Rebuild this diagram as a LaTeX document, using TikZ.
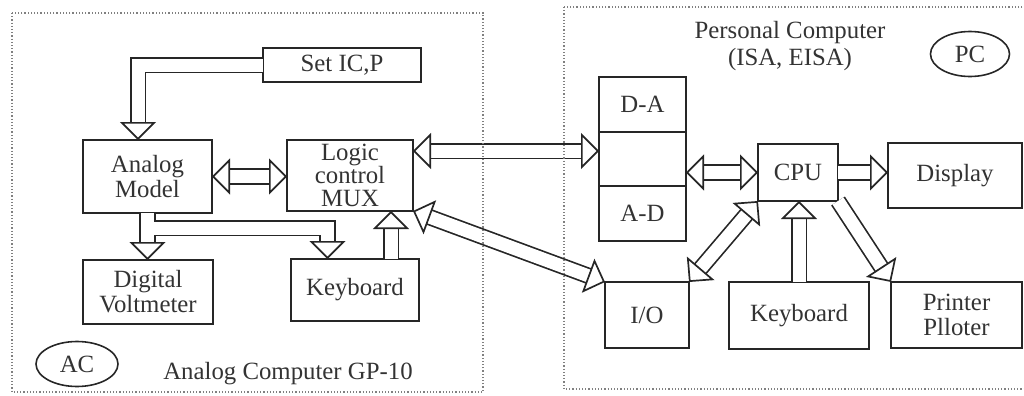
\documentclass[tikz,border=0pt]{standalone}
\usepackage{fontspec}
\setmainfont{Liberation Serif}
\usetikzlibrary{positioning, arrows.meta, calc, shapes.geometric}
\tikzset{
  blk/.style={draw=black!85, line width=0.8pt, inner sep=0pt, outer sep=0pt, align=center,
    text=black!80, font=\fontsize{12.4}{12.5}\selectfont},
  oval/.style={blk, ellipse},
  txt/.style={inner sep=0pt, align=center, text=black!80, font=\fontsize{12.4}{13.5}\selectfont},
  bus/.style={draw=black!85, line width=0.85pt, double=white, double distance=6.5pt},
  tip/.style={-{Triangle[open, length=9pt, width=18pt]}},
  tips/.style={{Triangle[open, length=9pt, width=18pt]}-{Triangle[open, length=9pt, width=18pt]}},
  frame/.style={draw=black!50, densely dotted, line width=0.6pt},
}

\begin{document}
\begin{tikzpicture}[x=0.5pt, y=-0.5pt]
\useasboundingbox (0,0) rectangle (1024,396);
\clip (0,0) rectangle (1024,396);
% analog computer
\node[blk, minimum width=79pt, minimum height=17pt] (setic) at (342,65) {Set IC,P};
\node[blk, minimum width=64.5pt, minimum height=36.5pt] (analog) at (147.5,176.5) {Analog\\Model};
\node[blk, minimum width=63pt, minimum height=35.5pt, font=\fontsize{12.4}{11.5}\selectfont] (mux) at (350,175.5) {Logic\\control\\MUX};
\node[blk, minimum width=65pt, minimum height=32pt] (dvm) at (148,292) {Digital\\Voltmeter};
\node[blk, minimum width=64pt, minimum height=31pt] (kbl) at (355,290) {Keyboard};
\node[oval, minimum width=41pt, minimum height=22.5pt] (ac) at (77,364) {AC};
\node[txt] (acname) at (288,374) {Analog Computer GP-10};
% personal computer
\node[txt] (pcname) at (790,46) {Personal Computer\\(ISA, EISA)};
\node[oval, minimum width=39.5pt, minimum height=22.5pt] (pc) at (970,54) {PC};
\node[blk, minimum width=43.5pt, minimum height=27.5pt] (da) at (642.5,104.5) {D-A};
\node[blk, minimum width=43.5pt, minimum height=27pt, below=0pt of da] (mid) {};
\node[blk, minimum width=43.5pt, minimum height=27.5pt, below=0pt of mid] (ad) {A-D};
\node[blk, minimum width=40pt, minimum height=28.5pt] (cpu) at (798,172.5) {CPU};
\node[blk, minimum width=67pt, minimum height=32.5pt] (disp) at (955,175.5) {Display};
\node[blk, minimum width=42pt, minimum height=33pt] (io) at (647,315) {I/O};
\node[blk, minimum width=70pt, minimum height=33.5pt] (kbr) at (799,315.5) {Keyboard};
\node[blk, minimum width=65.5pt, minimum height=33pt] (prn) at (956.5,315) {Printer\\Plloter};
% buses
\draw[bus, tip] (setic.west) -| ($(analog.north)+(-9.5,0)$);
\draw[bus, tips] (analog.east) -- (analog.east -| mux.west);
\draw[bus, tips] ($(mux.north east)+(0,11)$) coordinate (m1) -- (m1 -| mid.west);
\draw[bus, tip] (analog.south) -- (analog.south |- dvm.north);
\draw[bus, tip] ($(analog.south)+(6.3,15)$) -| ($(kbl.north)+(-27.5,0)$);
\draw[bus, tip] ($(kbl.north)+(36,0)$) coordinate (k1) -- (k1 |- mux.south);
\draw[bus, tips] (mux.south east) -- (io.north west);
\draw[bus, tips] (cpu.west -| mid.east) -- (cpu.west);
\draw[bus, tip] (cpu.east) -- (cpu.east -| disp.west);
\draw[bus, tip] (kbr.north) -- (kbr.north |- cpu.south);
\draw[bus, tips] (cpu.south west) -- (io.north east);
\draw[bus, tip] (cpu.south east) -- (prn.north west);
% frames
\draw[frame] (12,13) rectangle (483,392);
\draw[frame] (564,7) rectangle (1040,389);
\end{tikzpicture}
\end{document}
